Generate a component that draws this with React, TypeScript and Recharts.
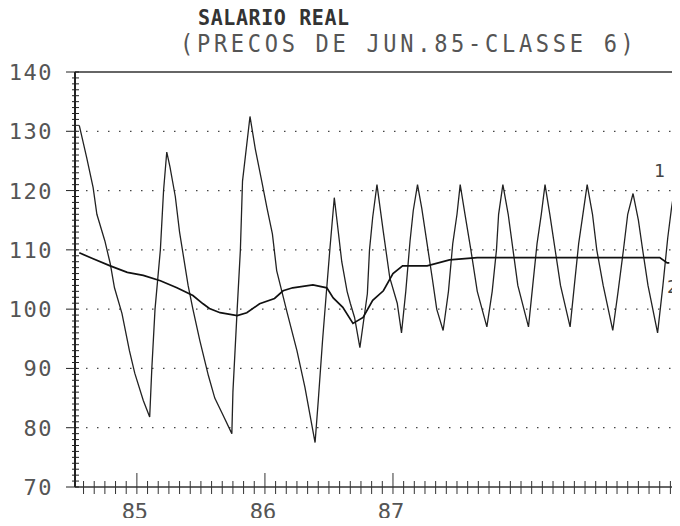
import React from "react";
import { LineChart, Line, XAxis, YAxis, ReferenceLine } from "recharts";

// meses contados a partir de jan/85 (0 = jan.85)
const mesesSerie1 = [
  -5.4, -4.7, -4.1, -3.75, -3.0, -2.5, -2.1, -1.4, -0.7, -0.2, 0.6, 1.2,
  1.4, 1.7, 2.2, 2.5, 2.8, 3.1, 3.6, 4.0, 4.8, 5.25, 5.9, 6.7,
  7.3, 8.0, 8.9, 9.0, 9.4, 9.7, 9.9, 10.6, 11.1, 11.7, 12.2, 12.7,
  13.1, 14.1, 15.0, 15.75, 16.7, 17.0, 17.4, 17.7, 18.1, 18.5, 18.75, 19.2,
  19.7, 20.0, 20.4, 20.9, 21.6, 21.8, 22.1, 22.5, 23.1, 23.7, 24.4, 24.8,
  25.2, 25.6, 25.9, 26.3, 26.7, 27.2, 27.7, 28.1, 28.7, 29.2, 29.6, 30.0,
  30.3, 30.75, 31.3, 31.9, 32.8, 33.3, 33.7, 33.9, 34.3, 34.8, 35.25, 35.7,
  36.7, 37.1, 37.5, 37.9, 38.25, 38.7, 39.2, 39.7, 40.6, 41.0, 41.4, 41.8,
  42.2, 42.7, 43.1, 43.7, 44.6, 45.1, 45.6, 46.0, 46.5, 47.0, 47.4, 47.9,
  48.8, 49.3, 49.75, 50.1, 50.5, 51.0,
];
const salario1 = [
  131, 125.5, 120.5, 116, 111.5, 107.7, 103.6, 99.3, 93, 89.2, 84.6, 81.8,
  90, 100, 110, 120, 126.5, 124, 119, 113, 104, 100, 94.7, 88.8,
  85, 82.4, 79, 86, 100, 110, 121.6, 132.5, 127, 121.6, 117, 112.7,
  106.5, 99.3, 93, 86.8, 77.5, 84.6, 94.7, 101.5, 110.4, 118.8, 115, 108,
  103, 101, 98.6, 93.5, 102.6, 110, 115.5, 121, 113, 105.3, 101, 96,
  103, 111.5, 116.6, 121, 117, 111, 105, 100, 96.4, 103, 111, 116,
  121, 116, 110, 103, 97, 103, 110, 116, 121, 116, 110, 104,
  97, 104, 111, 116, 121, 116, 110, 104, 97, 104, 111, 116,
  121, 116, 110, 104, 96.4, 103, 110, 116, 119.5, 115, 110, 104,
  96, 104, 112, 117, 121.7, 123,
];

const mesesSerie2 = [
  -5.4, -4.1, -2.5, -0.9, 0.6, 2.2, 3.75, 5.25, 6.2, 6.8, 7.8, 9.4,
  10.3, 11.5, 12.9, 13.7, 14.6, 16.5, 17.8, 18.4, 19.3, 20.25, 21.2, 22.1,
  23.1, 24.0, 24.9, 27.2, 29.3, 31.9, 49.0, 49.7, 49.9,
];
const salario2 = [
  109.5, 108.5, 107.3, 106.2, 105.7, 104.8, 103.6, 102.3, 100.9, 100.1, 99.4, 98.9,
  99.4, 100.9, 101.8, 103.1, 103.6, 104.1, 103.6, 101.9, 100.3, 97.6, 98.6, 101.5,
  103.1, 106, 107.3, 107.3, 108.3, 108.7, 108.7, 107.8, 107.8,
];

const marcosAno = [0, 12, 24];
const rotulosAno = ["85", "86", "87"];
const gradeY = [80, 90, 100, 110, 120, 130];

const serie1 = mesesSerie1.map((mes, i) => ({ mes, valor: salario1[i] }));
const serie2 = mesesSerie2.map((mes, i) => ({ mes, valor: salario2[i] }));

const ticksX = Array.from({ length: 56 }, (_, i) => i - 5);
const ticksY = Array.from({ length: 71 }, (_, i) => 70 + i);

const fonte = "'DejaVu Sans Mono', 'Liberation Mono', monospace";

const YTick = (props: any) => {
  const { x, y, payload } = props;
  const v = payload.value;
  const major = v % 10 === 0;
  return (
    <g>
      <line x1={x - (major ? 9 : 3)} x2={x + 4} y1={y} y2={y} stroke="#222" strokeWidth={1} />
      {major && (
        <text
          x={x - 22}
          y={y + 8}
          textAnchor="end"
          fontFamily={fonte}
          fontSize={22}
          letterSpacing={1.5}
          fill="#555"
        >
          {v}
        </text>
      )}
    </g>
  );
};

const XTick = (props: any) => {
  const { x, y, payload } = props;
  const idx = marcosAno.indexOf(payload.value);
  const major = idx >= 0;
  return (
    <g>
      <line x1={x} x2={x} y1={y - (major ? 14 : 6)} y2={y + 7} stroke="#333" strokeWidth={1} />
      {major && (
        <text x={x - 2} y={y + 32} textAnchor="middle" fontFamily={fonte} fontSize={22} fill="#555">
          {rotulosAno[idx]}
        </text>
      )}
    </g>
  );
};

export default function App() {
  return (
    <div style={{ position: "relative", width: 680, height: 526, margin: -8, background: "#fff" }}>
      <div
        style={{
          position: "absolute",
          left: 198,
          top: 5,
          fontFamily: fonte,
          fontSize: 20,
          lineHeight: "22px",
          fontWeight: "bold",
          letterSpacing: 0.6,
          color: "#333",
          whiteSpace: "pre",
          transform: "scaleY(1.1)",
          transformOrigin: "top left",
        }}
      >
        SALARIO REAL
      </div>
      <div
        style={{
          position: "absolute",
          left: 180,
          top: 31,
          fontFamily: fonte,
          fontSize: 22,
          lineHeight: "24px",
          letterSpacing: 3.7,
          color: "#555",
          whiteSpace: "pre",
          transform: "scaleY(1.1)",
          transformOrigin: "top left",
        }}
      >
        (PRECOS DE JUN.85-CLASSE 6)
      </div>
      <div style={{ position: "absolute", left: 654, top: 160, fontFamily: fonte, fontSize: 18, color: "#444" }}>1</div>
      <div style={{ position: "absolute", left: 667, top: 276, fontFamily: fonte, fontSize: 18, color: "#444" }}>2</div>
      <LineChart width={680} height={526} margin={{ top: 72, right: 0, left: 0, bottom: 0 }}>
        {gradeY.map((v) => (
          <ReferenceLine key={v} y={v} stroke="#444" strokeWidth={1.3} strokeDasharray="1.5 9.5" />
        ))}
        <ReferenceLine y={140} stroke="#333" strokeWidth={1.5} />
        <XAxis
          type="number"
          dataKey="mes"
          domain={[-5.8, 50.9]}
          allowDataOverflow
          ticks={ticksX}
          interval={0}
          tick={<XTick />}
          tickLine={false}
          tickSize={0}
          tickMargin={0}
          height={39}
          axisLine={{ stroke: "#333", strokeWidth: 1.5 }}
        />
        <YAxis
          type="number"
          domain={[70, 140]}
          ticks={ticksY}
          interval={0}
          tick={<YTick />}
          tickLine={false}
          tickSize={0}
          tickMargin={0}
          width={75}
          axisLine={{ stroke: "#222", strokeWidth: 2 }}
        />
        <Line
          data={serie1}
          dataKey="valor"
          type="linear"
          stroke="#222"
          strokeWidth={1.3}
          dot={false}
          isAnimationActive={false}
        />
        <Line
          data={serie2}
          dataKey="valor"
          type="linear"
          stroke="#111"
          strokeWidth={1.7}
          dot={false}
          isAnimationActive={false}
        />
      </LineChart>
    </div>
  );
}
